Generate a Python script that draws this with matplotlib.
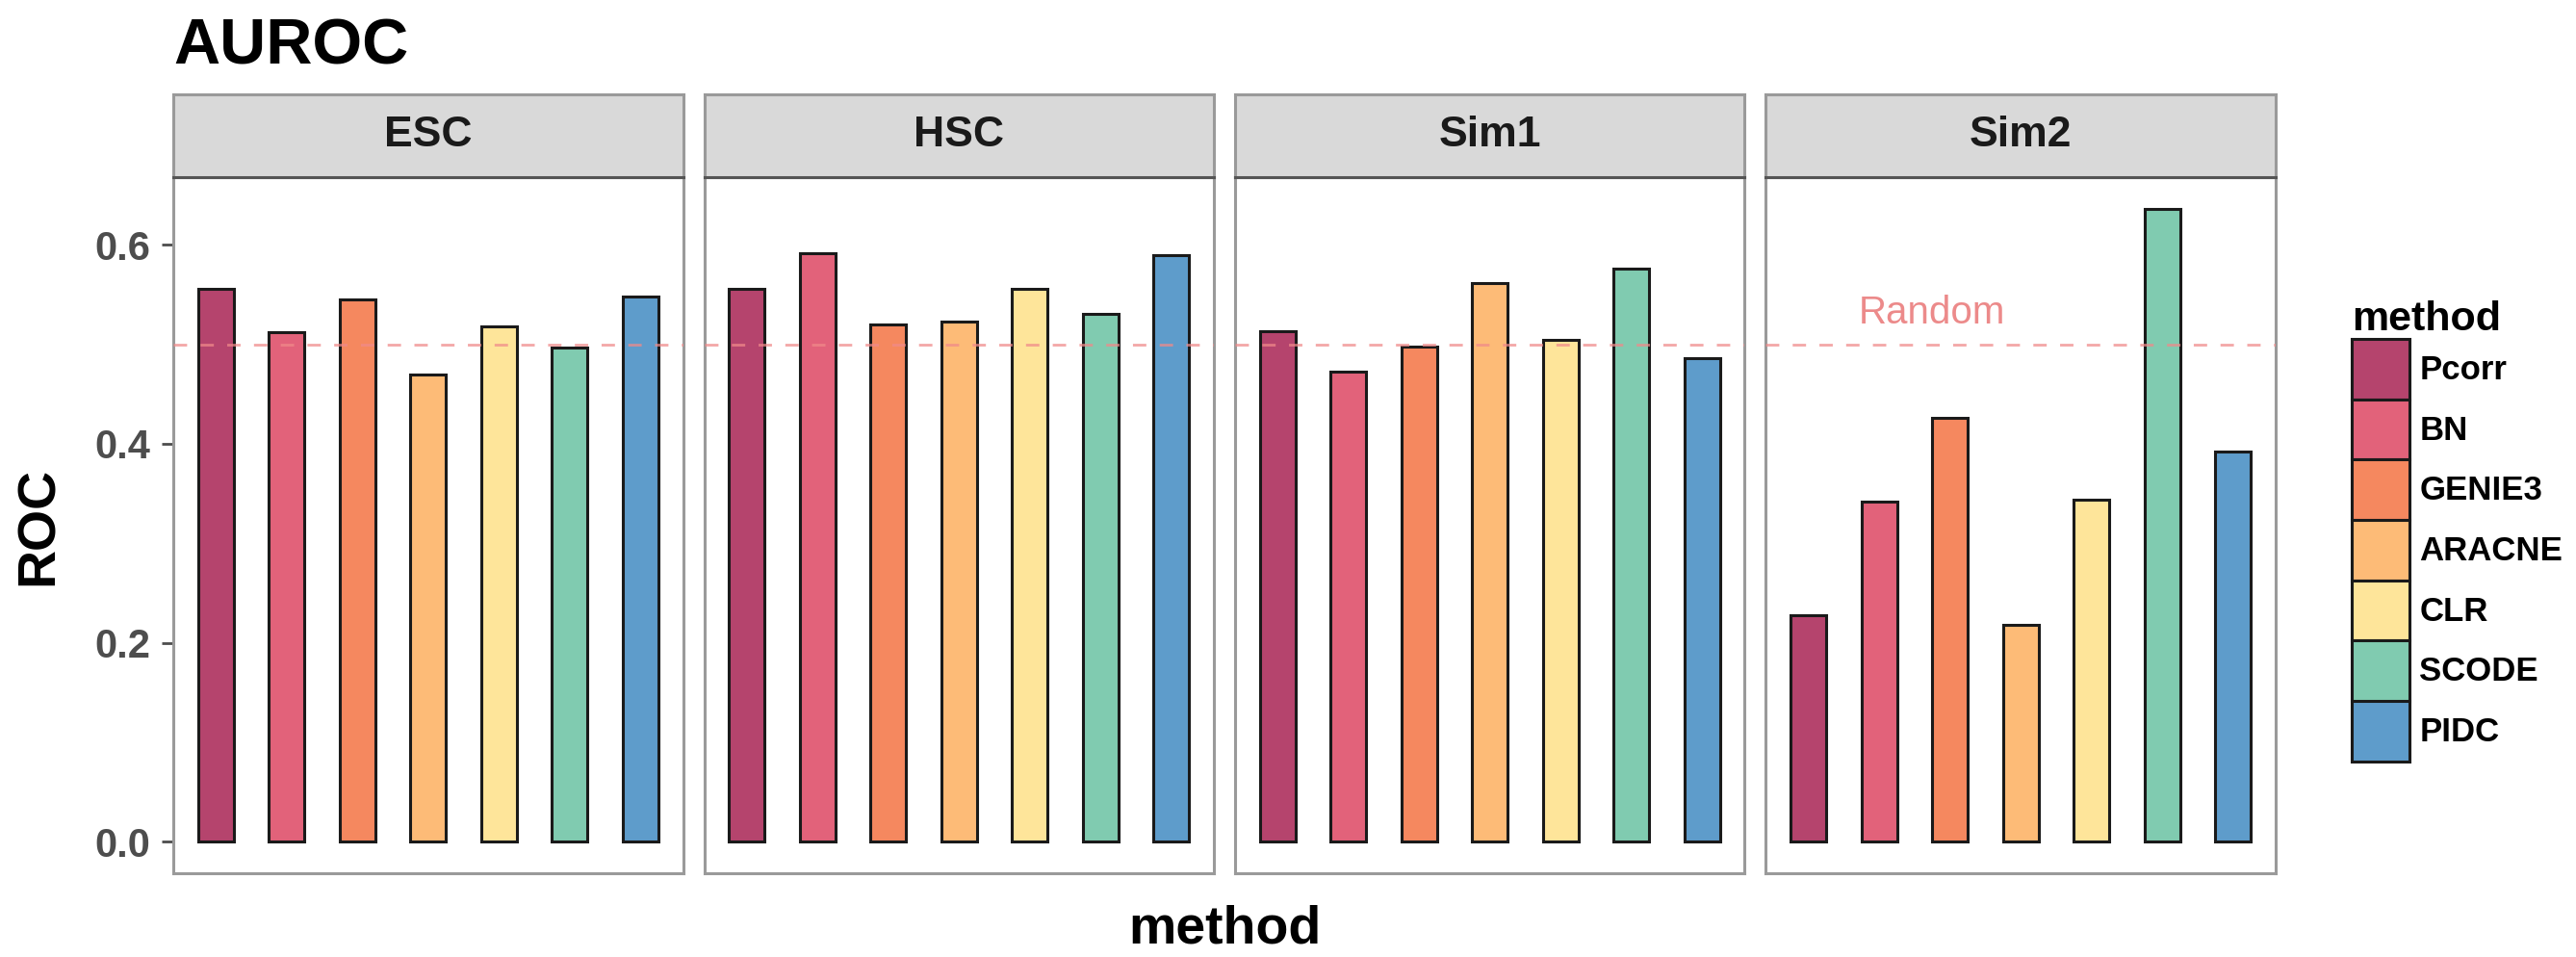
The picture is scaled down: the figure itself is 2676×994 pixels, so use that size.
#AUROC per method for each dataset, drawn as faceted bar panels with a random-guess reference line

import matplotlib
matplotlib.use('Agg')
import matplotlib.pyplot as plt
from matplotlib.patches import Patch

plt.rcParams['font.family'] = ['Liberation Sans', 'DejaVu Sans']
plt.rcParams['font.weight'] = 'bold'

#datasets shown as facets and the methods compared
datasets = ['ESC', 'HSC', 'Sim1', 'Sim2']
methods = ['Pcorr', 'BN', 'GENIE3', 'ARACNE', 'CLR', 'SCODE', 'PIDC']
colours = ['#B5446D', '#E2627A', '#F5885F', '#FDBB77', '#FEE59A', '#80CBB0', '#5E9CCB']

#AUROC values
esc = [0.556, 0.512, 0.545, 0.470, 0.518, 0.497, 0.548]
hsc = [0.556, 0.592, 0.520, 0.523, 0.556, 0.531, 0.590]
sim1 = [0.513, 0.472, 0.498, 0.562, 0.504, 0.576, 0.486]
sim2 = [0.228, 0.342, 0.426, 0.218, 0.344, 0.636, 0.392]
values = [esc, hsc, sim1, sim2]
random_level = 0.5

W, H = 2676, 994
fig = plt.figure(figsize=(W / 100, H / 100), dpi=100)

#panel geometry in pixels of the final image
left = 180 / W
width = 529.5 / W
gap = 22 / W
bottom = 1 - 907 / H
height = (907 - 184) / H
strip_h = 86 / H

xs = list(range(1, len(methods) + 1))

for i, (name, vals) in enumerate(zip(datasets, values)):
    x0 = left + i * (width + gap)
    ax = fig.add_axes([x0, bottom, width, height])
    ax.bar(xs, vals, width=0.5, color=colours, edgecolor='#1a1a1a', linewidth=2.2, zorder=2)
    ax.axhline(random_level, color='#F08A8A', linestyle=(0, (5, 5)), linewidth=2.0, alpha=0.75, zorder=3)
    ax.set_xlim(0.4, 7.6)
    ax.set_ylim(-0.0318, 0.668)
    ax.set_xticks([])
    ax.set_yticks([0.0, 0.2, 0.4, 0.6])
    if i == 0:
        ax.set_yticklabels(['0.0', '0.2', '0.4', '0.6'], fontsize=30, color='#4D4D4D', fontweight='bold')
        ax.tick_params(axis='y', length=9, width=2, color='#4D4D4D', pad=8)
    else:
        ax.tick_params(axis='y', length=0, labelleft=False)
    for s in ax.spines.values():
        s.set_color('#9A9A9A')
        s.set_linewidth(2.2)
    ax.spines['top'].set_color('#555555')
    if name == 'Sim2':
        ax.text(2.75, 0.513, 'Random', color='#EC8A8A', fontsize=29, fontweight='normal', ha='center', va='bottom')

    #facet strip on top of each panel
    st = fig.add_axes([x0, bottom + height, width, strip_h])
    st.set_facecolor('#D9D9D9')
    st.set_xticks([])
    st.set_yticks([])
    for s in st.spines.values():
        s.set_color('#9A9A9A')
        s.set_linewidth(2.2)
    st.spines['bottom'].set_color('#555555')
    st.text(0.5, 0.5, name, transform=st.transAxes, ha='center', va='center',
            fontsize=32, fontweight='bold', color='#1A1A1A')

fig.text(left, 1 - 66.5 / H, 'AUROC', fontsize=48, fontweight='bold', ha='left', va='baseline')
fig.text(1272 / W, 14 / H, 'method', fontsize=40, fontweight='bold', ha='center', va='baseline')
fig.text(41 / W, 1 - 546 / H, 'ROC', fontsize=40, fontweight='bold', rotation=90, ha='center', va='center')

handles = [Patch(facecolor=c, edgecolor='#1a1a1a', linewidth=2.2) for c in colours]
leg = fig.legend(handles, methods, loc='upper left', bbox_to_anchor=(2443 / W, 1 - 312 / H),
                 frameon=False, fontsize=25, title='method', title_fontsize=31,
                 handlelength=1.73, handleheight=2.4, labelspacing=0.0, handletextpad=0.3,
                 alignment='left', borderpad=0.0, borderaxespad=0.0)
leg.get_title().set_fontweight('bold')

fig.savefig('out.png', dpi=100)
